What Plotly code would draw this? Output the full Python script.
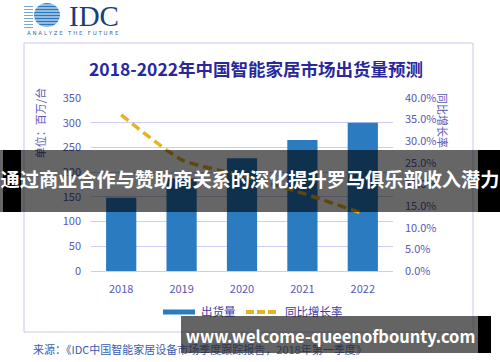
import plotly.graph_objects as go

years = ["2018", "2019", "2020", "2021", "2022"]
shipments = [148, 187, 228, 265, 300]          # 出货量, 百万台
growth = [0.361, 0.257, 0.220, 0.180, 0.133]   # 同比增长率

title_text = "2018-2022年中国智能家居市场出货量预测"
left_title = "单位：百万/台"
right_title = "同比增长率"
legend_names = ["出货量", "同比增长率"]
source_text = "来源：《IDC中国智能家居设备市场季度跟踪报告，2018年第一季度》"
banner_text = "通过商业合作与赞助商关系的深化提升罗马俱乐部收入潜力"
url_text = "www.welcome-queenofbounty.com"

W, H = 500, 362
PL, PR, PT, PB = 91, 393, 98, 271


def X(px):
    return (px - PL) / (PR - PL)


def Y(py):
    return (PB - py) / (PB - PT)


FONT = "Noto Sans CJK SC, Noto Sans, sans-serif"
BAR = "#2a7bc0"
GOLD = "#e6b422"
TICK = "#5858b4"
GRID = "#cdcdf2"

fig = go.Figure()
fig.add_trace(go.Bar(x=years, y=shipments, marker=dict(color=BAR, line=dict(width=0)),
                     name=legend_names[0], yaxis="y"))
fig.add_trace(go.Scatter(x=years, y=growth, mode="lines", name=legend_names[1], yaxis="y2",
                         line=dict(color=GOLD, width=3.5, dash="9px,5px", shape="spline", smoothing=0.5)))

shapes = []
# chart frame
shapes.append(dict(type="rect", xref="paper", yref="paper", x0=X(24), x1=X(473), y0=Y(332), y1=Y(43),
                   line=dict(color="#c9c9ec", width=1), layer="below"))


def text_shape(x0, x1, y0, y1, text, size, color, angle=0, pos="middle center"):
    return dict(type="rect", xref="paper", yref="paper", x0=X(x0), x1=X(x1), y0=Y(y1), y1=Y(y0),
                line=dict(width=0), fillcolor="rgba(0,0,0,0)", layer="above",
                label=dict(text=text, font=dict(family=FONT, size=size, color=color),
                           textangle=angle, textposition=pos, padding=0))


# left axis title (shape label so the banner covers it)
shapes.append(text_shape(34, 50, 113, 133, left_title, 11, TICK, angle=-90))
# legend
shapes.append(dict(type="line", xref="paper", yref="paper", x0=X(163), x1=X(195), y0=Y(312), y1=Y(312),
                   line=dict(color=BAR, width=5), layer="above"))
shapes.append(text_shape(198, 236, 304, 320, legend_names[0], 11.5, "#3a3aa8", pos="middle left"))
shapes.append(dict(type="line", xref="paper", yref="paper", x0=X(246), x1=X(278), y0=Y(312), y1=Y(312),
                   line=dict(color=GOLD, width=4, dash="8px,3px"), layer="above"))
shapes.append(text_shape(282, 345, 304, 320, legend_names[1], 11.5, "#3a3aa8", pos="middle left"))
# source
shapes.append(text_shape(30, 400, 344, 358, source_text, 11, "#3b5bb0", pos="middle left"))

# banner 1
shapes.append(dict(type="rect", xref="paper", yref="paper", x0=X(0), x1=X(500), y0=Y(212), y1=Y(150),
                   line=dict(width=0), fillcolor="rgba(0,0,0,0.6)", layer="above"))
shapes.append(dict(type="rect", xref="paper", yref="paper", x0=X(3), x1=X(21), y0=Y(212), y1=Y(150),
                   line=dict(width=0), fillcolor="#000000", layer="above"))
shapes.append(dict(type="rect", xref="paper", yref="paper", x0=X(478), x1=X(500), y0=Y(212), y1=Y(150),
                   line=dict(width=0), fillcolor="#000000", layer="above"))
shapes.append(text_shape(2, 498, 170, 194, "<b>" + banner_text + "</b>", 19.2, "#ffffff"))
# banner 2
shapes.append(dict(type="rect", xref="paper", yref="paper", x0=X(181), x1=X(478), y0=Y(353), y1=Y(316),
                   line=dict(width=0), fillcolor="rgba(40,40,40,0.72)", layer="above"))
shapes.append(dict(type="rect", xref="paper", yref="paper", x0=X(478), x1=X(491), y0=Y(353), y1=Y(316),
                   line=dict(width=0), fillcolor="#000000", layer="above"))
shapes.append(text_shape(181, 480, 328, 348, "<b>" + url_text + "</b>", 16.5, "#ffffff"))

# IDC logo globe
shapes.append(dict(type="circle", xref="paper", yref="paper", x0=X(34), x1=X(60), y0=Y(27), y1=Y(3),
                   line=dict(width=0), fillcolor="#2a78c0", layer="above"))
for yy in range(5, 27, 3):
    shapes.append(dict(type="line", xref="paper", yref="paper", x0=X(24), x1=X(66), y0=Y(yy), y1=Y(yy),
                       line=dict(color="#ffffff", width=1.2), layer="above"))
for yy in range(5, 27, 3):
    shapes.append(dict(type="line", xref="paper", yref="paper", x0=X(24), x1=X(33), y0=Y(yy + 1.5), y1=Y(yy + 1.5),
                       line=dict(color="#7fa6cf", width=1), layer="above"))

annotations = [
    dict(text="<b>" + title_text + "</b>", x=X(256), y=Y(68), xref="paper", yref="paper",
         showarrow=False, font=dict(family=FONT, size=17.5, color="#28289c"), xanchor="center", yanchor="middle"),
    dict(text="IDC", x=X(94), y=Y(16), xref="paper", yref="paper", showarrow=False,
         font=dict(family="Liberation Serif, DejaVu Serif, serif", size=29, color="#1d3d78"),
         xanchor="center", yanchor="middle"),
    dict(text="A N A L Y Z E   T H E   F U T U R E", x=X(73), y=Y(33), xref="paper", yref="paper",
         showarrow=False, font=dict(family="DejaVu Sans, sans-serif", size=5.5, color="#3f6aa0"),
         xanchor="center", yanchor="middle"),
    dict(text=right_title, x=X(443), y=Y(120), xref="paper", yref="paper", showarrow=False,
         textangle=90, font=dict(family=FONT, size=11, color=TICK), xanchor="center", yanchor="middle"),
]

fig.update_layout(
    width=W, height=H,
    margin=dict(l=PL, r=W - PR, t=PT, b=H - PB, pad=0),
    paper_bgcolor="#ffffff", plot_bgcolor="#ffffff",
    showlegend=False,
    bargap=0.5,
    font=dict(family=FONT, color=TICK, size=11),
    xaxis=dict(type="category", showgrid=False, showline=True, linecolor=GRID, linewidth=1,
               ticks="", tickfont=dict(size=11, color=TICK), ticklabelstandoff=8),
    yaxis=dict(range=[0, 350], dtick=50, showgrid=True, gridcolor=GRID, gridwidth=1,
               zeroline=False, showline=False, ticks="", tickfont=dict(size=11, color=TICK),
               ticklabelstandoff=9),
    yaxis2=dict(range=[0, 0.4], dtick=0.05, tickformat=".1%", overlaying="y", side="right",
                showgrid=False, zeroline=False, showline=False, ticks="",
                tickfont=dict(size=11, color=TICK), ticklabelstandoff=11),
    shapes=shapes,
    annotations=annotations,
)

fig.write_html("out.html", config={"displayModeBar": False},
               post_script="document.body.style.margin='0';document.body.style.overflow='hidden';")
